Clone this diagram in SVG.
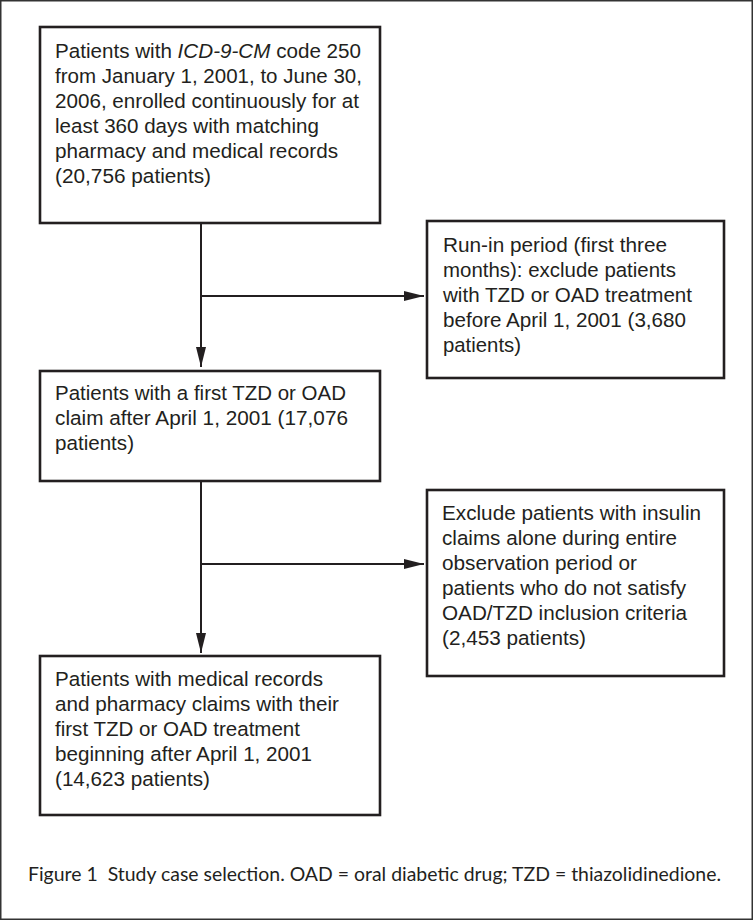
<svg xmlns="http://www.w3.org/2000/svg" width="754" height="921" viewBox="0 0 754 921">
<style>
.box{fill:#fff;stroke:#231f20;stroke-width:2.6}
.t{font-family:"Liberation Sans",Arial,sans-serif;font-size:20.5px;fill:#231f20}
.cap{font-family:Lato,"Open Sans",sans-serif;font-size:19px;fill:#231f20;white-space:pre}
.ln{stroke:#231f20;stroke-width:2;fill:none}
</style>
<defs>
<marker id="ah" viewBox="0 0 20 10" refX="20" refY="5" markerWidth="20" markerHeight="10" markerUnits="userSpaceOnUse" orient="auto">
<path d="M0,0 L20,5 L0,10 Z" fill="#231f20"/>
</marker>
</defs>
<rect x="0.75" y="0.75" width="751.5" height="918.5" fill="#fff" stroke="#333" stroke-width="1.5"/>
<g id="connectors">
<line class="ln" x1="201" y1="223" x2="201" y2="367" marker-end="url(#ah)"/>
<line class="ln" x1="201" y1="296" x2="424" y2="296" marker-end="url(#ah)"/>
<line class="ln" x1="201" y1="481" x2="201" y2="653" marker-end="url(#ah)"/>
<line class="ln" x1="201" y1="564" x2="424" y2="564" marker-end="url(#ah)"/>
</g>
<g id="n1">
<rect class="box" x="40" y="27" width="340" height="196"/>
<text class="t" x="55" y="58" textLength="306" lengthAdjust="spacingAndGlyphs">Patients with <tspan font-style="italic">ICD-9-CM</tspan> code 250</text>
<text class="t" x="55" y="83" textLength="307" lengthAdjust="spacingAndGlyphs">from January 1, 2001, to June 30,</text>
<text class="t" x="55" y="108" textLength="304" lengthAdjust="spacingAndGlyphs">2006, enrolled continuously for at</text>
<text class="t" x="55" y="133" textLength="264" lengthAdjust="spacingAndGlyphs">least 360 days with matching</text>
<text class="t" x="55" y="158" textLength="283" lengthAdjust="spacingAndGlyphs">pharmacy and medical records</text>
<text class="t" x="55" y="183" textLength="156" lengthAdjust="spacingAndGlyphs">(20,756 patients)</text>
</g>
<g id="n2">
<rect class="box" x="427" y="221" width="297" height="157"/>
<text class="t" x="443" y="252" textLength="224" lengthAdjust="spacingAndGlyphs">Run-in period (first three</text>
<text class="t" x="443" y="277" textLength="233" lengthAdjust="spacingAndGlyphs">months): exclude patients</text>
<text class="t" x="443" y="302" textLength="249" lengthAdjust="spacingAndGlyphs">with TZD or OAD treatment</text>
<text class="t" x="443" y="327" textLength="243" lengthAdjust="spacingAndGlyphs">before April 1, 2001 (3,680</text>
<text class="t" x="443" y="352" textLength="78" lengthAdjust="spacingAndGlyphs">patients)</text>
</g>
<g id="n3">
<rect class="box" x="40" y="371" width="340" height="110"/>
<text class="t" x="55" y="400" textLength="291" lengthAdjust="spacingAndGlyphs">Patients with a first TZD or OAD</text>
<text class="t" x="55" y="425" textLength="293" lengthAdjust="spacingAndGlyphs">claim after April 1, 2001 (17,076</text>
<text class="t" x="55" y="450" textLength="79" lengthAdjust="spacingAndGlyphs">patients)</text>
</g>
<g id="n4">
<rect class="box" x="427" y="490" width="297" height="186"/>
<text class="t" x="442" y="520" textLength="259" lengthAdjust="spacingAndGlyphs">Exclude patients with insulin</text>
<text class="t" x="442" y="545" textLength="235" lengthAdjust="spacingAndGlyphs">claims alone during entire</text>
<text class="t" x="442" y="570" textLength="195" lengthAdjust="spacingAndGlyphs">observation period or</text>
<text class="t" x="442" y="595" textLength="244" lengthAdjust="spacingAndGlyphs">patients who do not satisfy</text>
<text class="t" x="442" y="620" textLength="245" lengthAdjust="spacingAndGlyphs">OAD/TZD inclusion criteria</text>
<text class="t" x="442" y="645" textLength="144" lengthAdjust="spacingAndGlyphs">(2,453 patients)</text>
</g>
<g id="n5">
<rect class="box" x="40" y="656" width="340" height="159"/>
<text class="t" x="55" y="686" textLength="268" lengthAdjust="spacingAndGlyphs">Patients with medical records</text>
<text class="t" x="55" y="711" textLength="284" lengthAdjust="spacingAndGlyphs">and pharmacy claims with their</text>
<text class="t" x="55" y="736" textLength="245" lengthAdjust="spacingAndGlyphs">first TZD or OAD treatment</text>
<text class="t" x="55" y="761" textLength="257" lengthAdjust="spacingAndGlyphs">beginning after April 1, 2001</text>
<text class="t" x="55" y="786" textLength="155" lengthAdjust="spacingAndGlyphs">(14,623 patients)</text>
</g>
<text class="cap" x="28" y="881" textLength="693" lengthAdjust="spacingAndGlyphs">Figure 1  Study case selection. OAD = oral diabetic drug; TZD = thiazolidinedione.</text>
</svg>
